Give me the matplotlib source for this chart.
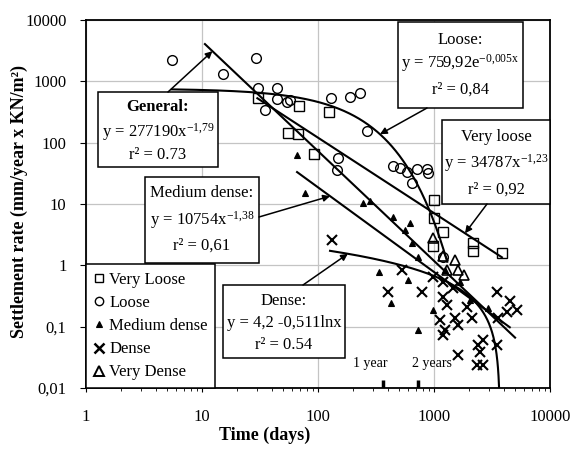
import numpy as np
import matplotlib
matplotlib.use('Agg')
import matplotlib.pyplot as plt
from matplotlib.patches import Rectangle
from matplotlib.lines import Line2D

plt.rcParams['font.family'] = ['Liberation Serif', 'DejaVu Serif']
plt.rcParams['mathtext.fontset'] = 'custom'
plt.rcParams['mathtext.rm'] = 'Liberation Serif'
plt.rcParams['mathtext.it'] = 'Liberation Serif:italic'
plt.rcParams['mathtext.bf'] = 'Liberation Serif:bold'

# ---------------- data ----------------
very_loose_x = [30.4, 55.1, 67.3, 68.6, 124, 92.4, 1000, 1000, 1196, 980, 2168, 2168, 3855]
very_loose_y = [535, 144, 138, 396, 316, 65, 11.6, 5.9, 3.5, 2.1, 2.3, 1.7, 1.6]

loose_x = [5.5, 15.2, 29.2, 30.4, 44.3, 34.9, 44.3, 54, 57.4, 129, 189, 230, 264,
           149, 146, 443, 509, 585, 713, 871, 887, 646, 1196]
loose_y = [2230, 1320, 2400, 780, 780, 340, 515, 460, 500, 535, 555, 645, 155,
           56, 36, 42, 39, 33, 37, 37, 32, 22, 1.37]

medium_x = [65.9, 77.3, 244, 281, 443, 621, 562, 646, 728, 336, 597, 426, 980,
            728, 2043, 2922, 1245, 1675]
medium_y = [63, 15.1, 10.4, 11.2, 6.1, 4.9, 3.8, 2.3, 1.37, 0.78, 0.58, 0.24, 0.187,
            0.088, 0.27, 0.20, 0.84, 0.53]

dense_x = [132, 401, 530, 788, 980, 1196, 1196, 1459, 1294, 1517, 1196, 1127, 1611,
           1924, 2128, 1611, 2395, 2644, 2494, 2348, 2644, 3493, 3493, 4519, 5199,
           4259, 3563, 1245]
dense_y = [2.59, 0.37, 0.84, 0.37, 0.65, 0.53, 0.30, 0.43, 0.225, 0.138, 0.073, 0.128,
           0.106, 0.21, 0.138, 0.035, 0.05, 0.061, 0.039, 0.024, 0.024, 0.05, 0.37,
           0.26, 0.187, 0.173, 0.138, 0.088]

very_dense_x = [980, 1196, 1517, 1611, 1294, 1814]
very_dense_y = [2.79, 1.42, 1.22, 0.84, 0.84, 0.70]

# trend-line coefficients (as printed on the chart) and drawn x-ranges
general_a, general_b = 277190, -1.79
general_range = [10.6, 5000]
vloose_a, vloose_b = 34787, -1.23
vloose_range = [30, 3850]
medium_a, medium_b = 10754, -1.38
medium_range = [66, 4500]
loose_a, loose_k = 759.92, -0.005
loose_range = [5.5, 1300]
dense_c, dense_d = 4.2, -0.511
dense_start = 127

x_ticks = [1, 10, 100, 1000, 10000]
x_tick_labels = ['1', '10', '100', '1000', '10000']
y_ticks = [0.01, 0.1, 1, 10, 100, 1000, 10000]
y_tick_labels = ['0,01', '0,1', '1', '10', '100', '1000', '10000']

legend_labels = ['Very Loose', 'Loose', 'Medium dense', 'Dense', 'Very Dense']
year_days = [365, 730]
year_labels = ['1 year', '2 years']

# ---------------- figure ----------------
W, H = 574, 450
fig = plt.figure(figsize=(W / 100, H / 100), dpi=100)
L, R, T, B = 86, 550, 20, 388
ax = fig.add_axes([L / W, 1 - B / H, (R - L) / W, (B - T) / H])
ax.set_xscale('log')
ax.set_yscale('log')
ax.set_xlim(1, 1e4)
ax.set_ylim(0.01, 1e4)


def fx(px):
    return (px - L) / (R - L)


def fy(py):
    return (B - py) / (B - T)


ax.grid(True, which='major', color='#c4c4c4', lw=0.9)
ax.set_axisbelow(True)
for s in ax.spines.values():
    s.set_linewidth(1.3)

ax.set_xticks(x_ticks)
ax.set_xticklabels(x_tick_labels)
ax.set_yticks(y_ticks)
ax.set_yticklabels(y_tick_labels)
ax.xaxis.set_minor_locator(matplotlib.ticker.LogLocator(base=10, subs=np.arange(2, 10)))
ax.xaxis.set_minor_formatter(matplotlib.ticker.NullFormatter())
ax.yaxis.set_minor_locator(matplotlib.ticker.NullLocator())
ax.tick_params(axis='x', which='major', direction='out', length=3, pad=12, labelsize=12)
ax.tick_params(axis='x', which='minor', direction='out', length=2)
ax.tick_params(axis='y', which='major', direction='out', length=4, pad=10, labelsize=12)

# trend lines
lk = dict(color='k', lw=1.5, zorder=3)
xg = np.geomspace(*general_range, 200)
ax.plot(xg, general_a * xg ** general_b, **lk)
xv = np.geomspace(*vloose_range, 200)
ax.plot(xv, vloose_a * xv ** vloose_b, **lk)
xm = np.geomspace(*medium_range, 200)
ax.plot(xm, medium_a * xm ** medium_b, **lk)
xl = np.geomspace(*loose_range, 300)
ax.plot(xl, loose_a * np.exp(loose_k * xl), **lk)
dense_end = np.exp((0.01 - dense_c) / dense_d)
xd = np.geomspace(dense_start, dense_end, 600)
ax.plot(xd, dense_c + dense_d * np.log(xd), **lk)

# markers
ms = dict(ls='none', zorder=4)
ax.plot(very_loose_x, very_loose_y, marker='s', mfc='none', mec='k', ms=6.5, mew=1.0, **ms)
ax.plot(loose_x, loose_y, marker='o', mfc='none', mec='k', ms=7, mew=1.0, **ms)
ax.plot(medium_x, medium_y, marker='^', mfc='k', mec='k', ms=4.5, mew=0.8, **ms)
ax.plot(dense_x, dense_y, marker='x', color='k', ms=6.5, mew=1.5, **ms)
ax.plot(very_dense_x, very_dense_y, marker='^', mfc='none', mec='k', ms=6.5, mew=1.2, **ms)

# year marks
for d in year_days:
    ax.plot([d, d], [0.01, 0.0135], color='k', lw=2.5, solid_capstyle='butt', zorder=4)
ax.text(281, 0.025, year_labels[0], ha='center', va='center', fontsize=10)
ax.text(961, 0.025, year_labels[1], ha='center', va='center', fontsize=10)


# annotation boxes
def box(x0, y0, x1, y1, lines, bold_first=False):
    ax.add_patch(Rectangle((fx(x0), fy(y1)), fx(x1) - fx(x0), fy(y0) - fy(y1),
                           transform=ax.transAxes, fc='white', ec='k', lw=1.1,
                           zorder=5, clip_on=False))
    cx = fx((x0 + x1) / 2)
    for i, (py, s) in enumerate(lines):
        ax.text(cx, fy(py), s, transform=ax.transAxes, ha='center', va='center',
                fontsize=12, zorder=6,
                fontweight='bold' if (bold_first and i == 0) else 'normal')


def arrow(tail_px, xt, yt):
    ax.annotate('', xy=(xt, yt), xycoords='data',
                xytext=(fx(tail_px[0]), fy(tail_px[1])), textcoords='axes fraction',
                arrowprops=dict(arrowstyle='-|>', color='k', lw=1.1, mutation_scale=10,
                                shrinkA=0, shrinkB=0), zorder=7)


box(98, 92, 218, 167, [(107, 'General:'),
                       (132, r'y = 277190x$^{\mathrm{-1{,}79}}$'),
                       (155, 'r² = 0.73')], bold_first=True)
arrow((168, 92), 12.3, general_a * 12.3 ** general_b)

box(145, 177, 259, 263, [(193, 'Medium dense:'),
                         (220, r'y = 10754x$^{\mathrm{-1{,}38}}$'),
                         (246, 'r² = 0,61')])
arrow((259, 217), 127, medium_a * 127 ** medium_b)

box(398, 22, 523, 108, [(40, 'Loose:'),
                        (63, r'y = 759,92e$^{\mathrm{-0{,}005x}}$'),
                        (90, 'r² = 0,84')])
arrow((427, 108), 342, loose_a * np.exp(loose_k * 342))

box(442, 120, 550, 204, [(137, 'Very loose'),
                         (163, r'y = 34787x$^{\mathrm{-1{,}23}}$'),
                         (190, 'r² = 0,92')])
arrow((487, 204), 1850, vloose_a * 1850 ** vloose_b)

box(223, 285, 345, 358, [(301, 'Dense:'),
                         (323, 'y = 4,2 -0,511lnx'),
                         (345, 'r² = 0.54')])
arrow((303, 285), 181, dense_c + dense_d * np.log(181))

# legend
handles = [
    Line2D([], [], ls='none', marker='s', mfc='none', mec='k', ms=6, mew=1.0),
    Line2D([], [], ls='none', marker='o', mfc='none', mec='k', ms=6, mew=1.0),
    Line2D([], [], ls='none', marker='^', mfc='k', mec='k', ms=5, mew=0.8),
    Line2D([], [], ls='none', marker='x', color='k', ms=7, mew=1.8),
    Line2D([], [], ls='none', marker='^', mfc='none', mec='k', ms=6.5, mew=1.4),
]
leg = ax.legend(handles, legend_labels, loc='lower left', bbox_to_anchor=(0, 0),
                borderaxespad=0, frameon=True, fancybox=False, edgecolor='k',
                framealpha=1, fontsize=12, handlelength=0.6, handletextpad=0.35,
                labelspacing=0.43, borderpad=0.45)
leg.get_frame().set_linewidth(1.1)
leg.set_zorder(6)

ax.set_xlabel('Time (days)', fontsize=13, fontweight='bold')
ax.xaxis.set_label_coords(0.386, -0.105)
ax.set_ylabel('Settlement rate (mm/year x KN/m²)', fontsize=13, fontweight='bold')
ax.yaxis.set_label_coords(-0.125, 0.508)

fig.savefig('out.png', dpi=100)
